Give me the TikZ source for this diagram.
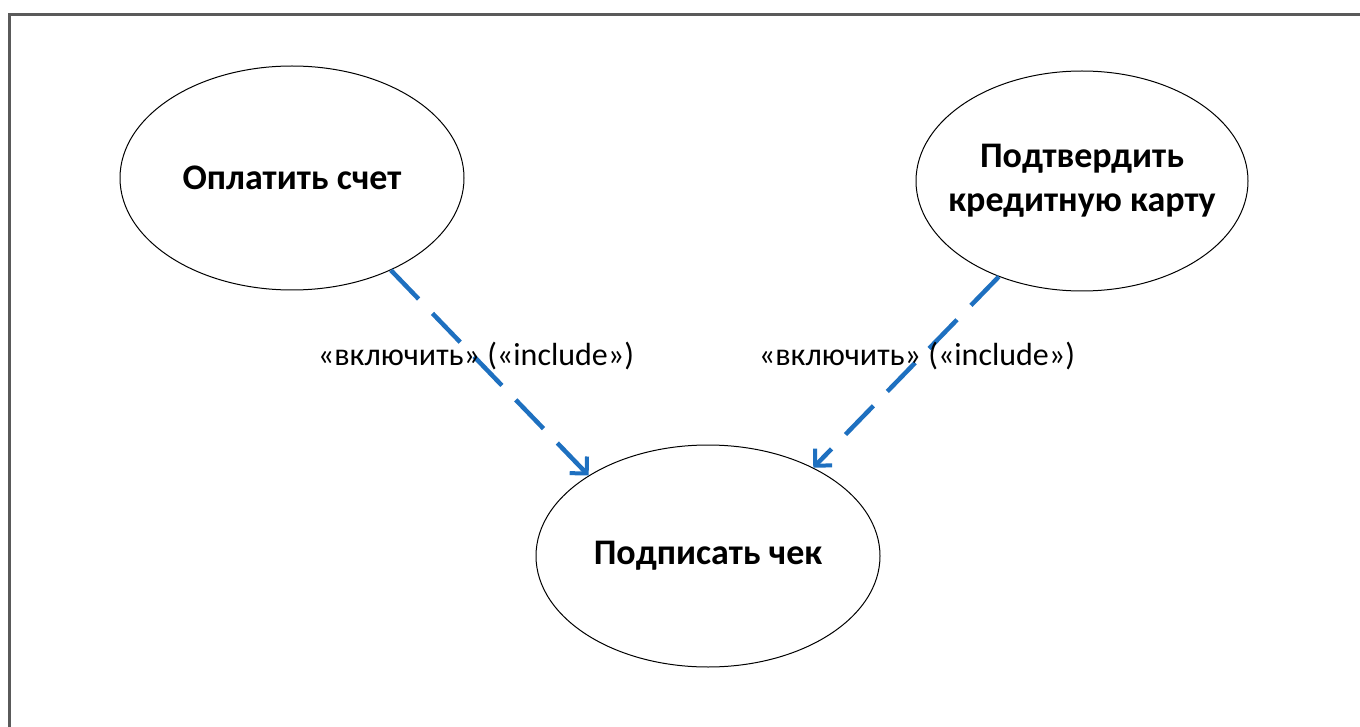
\documentclass[tikz,border=0pt]{standalone}
\usepackage{fontspec}
\setmainfont{Carlito}
\usetikzlibrary{shapes.geometric,arrows.meta}
\definecolor{incblue}{RGB}{30,112,192}
\definecolor{framegray}{RGB}{90,90,90}
\begin{document}
\begin{tikzpicture}[x=1pt,y=-1pt,
  usecase/.style={ellipse,draw=black,line width=1pt,inner sep=0pt},
  uctext/.style={align=center,inner sep=0pt,font=\fontsize{36}{44}\selectfont\bfseries},
  include/.style={draw=incblue,line width=4.5pt,dash pattern=on 40pt off 20pt,
    -{Straight Barb[length=12pt,width=24pt,line width=4pt]}},
  inclabel/.style={font=\fontsize{32}{38}\selectfont,inner sep=0pt}]
  \useasboundingbox (0,0) rectangle (1360,727);
  \fill[white] (0,0) rectangle (1360,727);
  % frame
  \draw[framegray,line width=3pt] (9,727) -- (9,15) -- (1360,15);
  % use cases
  \node[usecase,minimum width=344pt,minimum height=224pt] (pay) at (292,178) {};
  \node[uctext] (paytext) at (pay) {Оплатить счет};
  \node[usecase,minimum width=332pt,minimum height=220pt] (card) at (1082,181) {};
  \node[uctext] (cardtext) at (card) {Подтвердить\\кредитную карту};
  \node[usecase,minimum width=344pt,minimum height=222pt] (sign) at (708,556) {};
  \node[uctext] (signtext) at (sign) {Подписать чек};
  % include relations
  \draw[include] (pay.-43) -- (sign.146);
  \draw[include] (card.-131) -- (sign.40);
  \node[inclabel] (lab1) at (476,356) {«включить» («include»)};
  \node[inclabel] (lab2) at (917,356) {«включить» («include»)};
\end{tikzpicture}
\end{document}
